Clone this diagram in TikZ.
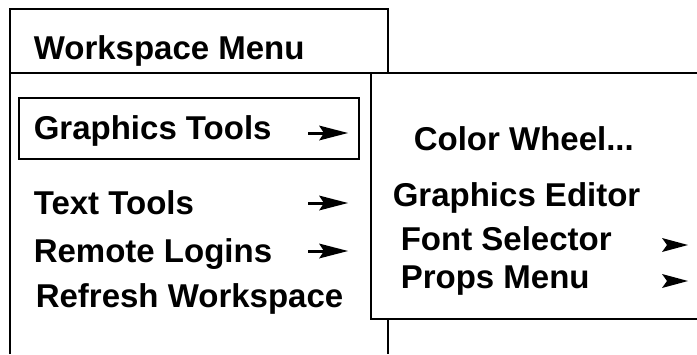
\documentclass[tikz,border=0pt]{standalone}
\usepackage{fontspec}
\setmainfont{Liberation Sans}
\begin{document}
\begin{tikzpicture}[x=1pt,y=-1pt,line width=1.6pt,
  item/.style={font=\fontsize{33}{33}\selectfont\bfseries,anchor=base west,inner sep=0pt},
  frame/.style={draw=black,line width=1.7pt},
  headfill/.style={fill=black}]
\useasboundingbox (0,0) rectangle (697,354);
% main menu
\draw[frame] (10,354) -- (10,9) -- (388,9) -- (388,354);
\draw[frame] (10,73) -- (388,73);
\node[item] (title) at (33,59) {Workspace Menu};
\node[draw,line width=1.6pt,minimum width=340pt,minimum height=61pt,anchor=north west,inner sep=0pt] (selbox) at (18,97) {};
\node[item] (gt) at (33,139) {Graphics Tools};
\node[item] (tt) at (33,214) {Text Tools};
\node[item] (rl) at (33,262) {Remote Logins};
\node[item] (rw) at (35,307) {Refresh Workspace};
% arrows of the main menu
\foreach \n/\y in {a1/133,a2/203,a3/251}{
  \coordinate (\n) at (348,\y);
  \draw[line width=3pt] (\n) ++(-40,0) -- ++(18,0);
  \fill[headfill] (\n) -- ++(-29,-7.5) -- ++(5,7.5) -- ++(-5,7.5) -- cycle;
}
% submenu
\fill[white] (371,73) rectangle (697,319);
\draw[frame] (697,73) -- (371,73) -- (371,319) -- (697,319);
\node[item] (cw) at (413,150) {Color Wheel...};
\node[item] (ge) at (392,206) {Graphics Editor};
\node[item] (fs) at (400,250) {Font Selector};
\node[item] (pm) at (400,288) {Props Menu};
\foreach \n/\y in {b1/245,b2/281}{
  \coordinate (\n) at (688,\y);
  \fill[headfill] (\n) -- ++(-26,-7) -- ++(5,7) -- ++(-5,7) -- cycle;
}
\end{tikzpicture}
\end{document}
